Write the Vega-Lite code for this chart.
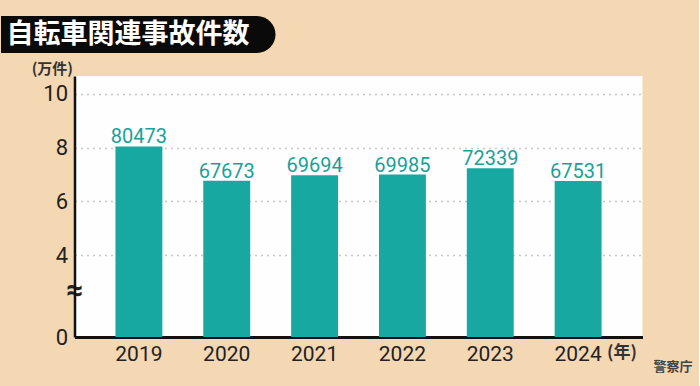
{
  "$schema": "https://vega.github.io/schema/vega-lite/v6.json",
  "background": "#f4d7b3",
  "padding": {"left": -18.5, "top": 15, "right": 6, "bottom": 12},
  "config": {"view": {"stroke": null}},
  "datasets": {
    "banner": [{"t": "自転車関連事故件数"}],
    "accidents": [
      {"year": "2019", "count": 80473},
      {"year": "2020", "count": 67673},
      {"year": "2021", "count": 69694},
      {"year": "2022", "count": 69985},
      {"year": "2023", "count": 72339},
      {"year": "2024", "count": 67531}
    ]
  },
  "title": {
    "text": "警察庁",
    "orient": "bottom",
    "anchor": "end",
    "fontSize": 13,
    "font": "Noto Sans CJK JP",
    "fontWeight": "bold",
    "color": "#444444",
    "offset": 0,
    "baseline": "top",
    "dx": 50,
    "dy": -3
  },
  "spacing": 8,
  "vconcat": [
    {
      "width": 201,
      "height": 37,
      "data": {"name": "banner"},
      "encoding": {
        "y": {
          "field": "t",
          "type": "nominal",
          "scale": {"paddingInner": 0, "paddingOuter": 0},
          "axis": {
            "title": null,
            "labels": false,
            "domain": false,
            "grid": false,
            "ticks": true,
            "tickSize": 74,
            "tickWidth": 37,
            "tickColor": "#0a0a0a",
            "tickCap": "butt",
            "zindex": 0
          }
        }
      },
      "layer": [
        {
          "mark": {"type": "rect", "color": "#0a0a0a", "cornerRadiusTopRight": 18.5, "cornerRadiusBottomRight": 18.5}
        },
        {
          "mark": {"type": "text", "color": "white", "fontSize": 27, "font": "Noto Sans CJK JP", "fontWeight": "bold", "dx": -47, "align": "center", "baseline": "middle"},
          "encoding": {"text": {"field": "t"}}
        }
      ]
    },
    {
      "width": 568,
      "height": 261,
      "data": {"name": "accidents"},
      "view": {"fill": "#fefefe", "stroke": null},
      "encoding": {
        "x": {
          "field": "year",
          "type": "ordinal",
          "scale": {"paddingInner": 0.466, "paddingOuter": 0.466},
          "axis": {
            "title": "(年)",
            "domainColor": "#111111",
            "domainWidth": 3,
            "ticks": false,
            "grid": false,
            "labelFont": "Roboto",
            "labelFontSize": 21,
            "labelColor": "#222222",
            "labelPadding": 6,
            "labelAngle": 0,
            "titleX": 532,
            "titleY": 15,
            "titleAlign": "left",
            "titleBaseline": "middle",
            "titleFontSize": 17,
            "titleFont": "Noto Sans CJK JP",
            "titleFontWeight": "bold",
            "titleColor": "#333333"
          }
        },
        "y": {
          "field": "count",
          "type": "quantitative",
          "scale": {"domain": [0, 40000, 106700], "range": [261, 179, 0], "nice": false, "zero": false},
          "axis": {
            "title": "(万件)",
            "values": [0, 22500, 40000, 60000, 80000, 100000],
            "labelExpr": "datum.value == 22500 ? '≈' : format(datum.value / 10000, 'd')",
            "domainColor": "#111111",
            "domainWidth": 2.5,
            "ticks": false,
            "labelFont": "Roboto",
            "labelFontSize": {"condition": {"test": "datum.value == 22500", "value": 30}, "value": 22},
            "labelFontWeight": {"condition": {"test": "datum.value == 22500", "value": "bold"}, "value": "normal"},
            "labelAlign": {"condition": {"test": "datum.value == 22500", "value": "center"}, "value": "right"},
            "labelPadding": {"condition": {"test": "datum.value == 22500", "value": 0}, "value": 7},
            "labelColor": "#222222",
            "labelOverlap": false,
            "grid": true,
            "gridColor": "#c8c8c8",
            "gridDash": [2, 4],
            "gridWidth": 1.5,
            "gridOpacity": {"condition": {"test": "datum.value >= 40000", "value": 1}, "value": 0},
            "minExtent": 92.5,
            "titleAngle": 0,
            "titleX": -2,
            "titleY": -8,
            "titleAlign": "right",
            "titleBaseline": "middle",
            "titleFont": "Noto Sans CJK JP",
            "titleFontSize": 15,
            "titleFontWeight": "bold",
            "titleColor": "#333333"
          }
        }
      },
      "layer": [
        {"mark": {"type": "bar", "color": "#17a8a1"}},
        {
          "mark": {"type": "text", "color": "#1c9f99", "font": "Roboto", "fontSize": 20, "baseline": "alphabetic", "dy": -3},
          "encoding": {"text": {"field": "count", "type": "quantitative", "format": "d"}}
        }
      ]
    }
  ]
}
